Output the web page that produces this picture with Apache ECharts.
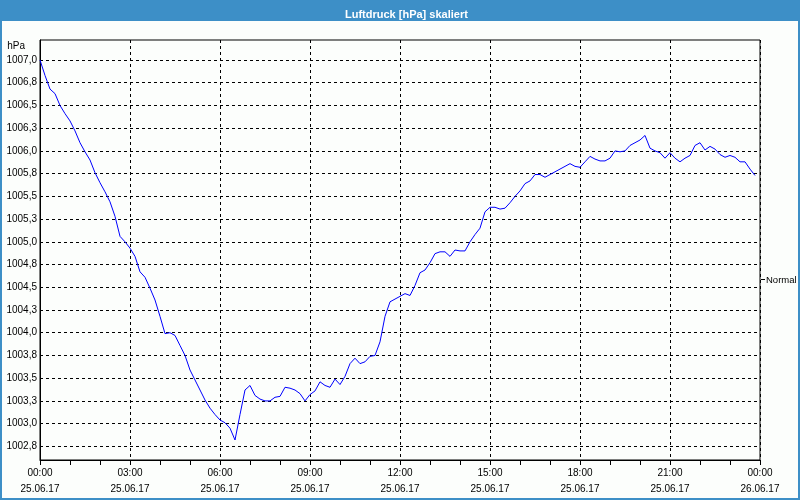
<!DOCTYPE html>
<html>
<head>
<meta charset="utf-8">
<script src="https://cdn.jsdelivr.net/npm/echarts@6/dist/echarts.min.js"></script>
<style>
html,body{margin:0;padding:0;background:#fcfefc;}
#chart{width:800px;height:500px;}
</style>
</head>
<body>
<div id="chart"></div>
<script>
// Time of each sample in hours after 25.06.17 00:00 (10-minute sampling)
const sampleStepHours = 1 / 6;
// Air pressure values [hPa]
const pressure = [
  1007.00, 1006.83, 1006.68, 1006.63, 1006.50, 1006.41, 1006.33, 1006.22, 1006.09, 1005.99,
  1005.90, 1005.76, 1005.65, 1005.55, 1005.44, 1005.28, 1005.06, 1005.00, 1004.93, 1004.84,
  1004.67, 1004.61, 1004.49, 1004.36, 1004.18, 1003.99, 1004.00, 1003.97, 1003.86, 1003.75,
  1003.59, 1003.48, 1003.37, 1003.26, 1003.17, 1003.10, 1003.04, 1003.01, 1002.95, 1002.82,
  1003.10, 1003.37, 1003.42, 1003.31, 1003.27, 1003.25, 1003.25, 1003.29, 1003.30, 1003.40,
  1003.39, 1003.37, 1003.33, 1003.25, 1003.32, 1003.36, 1003.46, 1003.42, 1003.40, 1003.49,
  1003.43, 1003.52, 1003.66, 1003.72, 1003.66, 1003.68, 1003.74, 1003.75, 1003.90, 1004.18,
  1004.34, 1004.37, 1004.40, 1004.43, 1004.41, 1004.52, 1004.66, 1004.69, 1004.77, 1004.87,
  1004.89, 1004.89, 1004.84, 1004.91, 1004.90, 1004.90, 1005.00, 1005.08, 1005.15, 1005.33,
  1005.38, 1005.38, 1005.36, 1005.37, 1005.43, 1005.50, 1005.56, 1005.64, 1005.67, 1005.74,
  1005.74, 1005.71, 1005.74, 1005.77, 1005.80, 1005.83, 1005.86, 1005.83, 1005.82, 1005.88,
  1005.94, 1005.91, 1005.89, 1005.89, 1005.92, 1006.00, 1005.99, 1006.00, 1006.06, 1006.09,
  1006.12, 1006.17, 1006.03, 1006.00, 1005.98, 1005.92, 1005.98, 1005.92, 1005.88, 1005.92,
  1005.95, 1006.06, 1006.09, 1006.01, 1006.05, 1006.02, 1005.96, 1005.93, 1005.95, 1005.93,
  1005.88, 1005.88, 1005.80, 1005.73
];
// x-axis tick labels (every 3 hours)
const xTickLabels = [
  '00:00\n25.06.17', '03:00\n25.06.17', '06:00\n25.06.17', '09:00\n25.06.17',
  '12:00\n25.06.17', '15:00\n25.06.17', '18:00\n25.06.17', '21:00\n25.06.17',
  '00:00\n26.06.17'
];
// y-axis tick values
const yTickValues = [
  1002.75, 1003.0, 1003.25, 1003.5, 1003.75, 1004.0, 1004.25, 1004.5, 1004.75,
  1005.0, 1005.25, 1005.5, 1005.75, 1006.0, 1006.25, 1006.5, 1006.75, 1007.0
];
const seriesName = 'Normal';
const titleText = 'Luftdruck [hPa] skaliert';
const unitText = 'hPa';

const seriesData = pressure.map((v, i) => [i * sampleStepHours, v]);

const FONT = 'Liberation Sans';
const chart = echarts.init(document.getElementById('chart'), null, {renderer: 'canvas'});
chart.setOption({
  backgroundColor: '#fcfefc',
  animation: false,
  title: {
    text: titleText,
    left: 340,
    top: 4,
    textStyle: {color: '#ffffff', fontSize: 11, fontWeight: 'bold', fontFamily: FONT}
  },
  graphic: [
    {type: 'rect', z: -10, silent: true, shape: {x: 0, y: 0, width: 800, height: 21}, style: {fill: '#3d8fc7'}},
    {type: 'rect', z: 100, silent: true, shape: {x: 1, y: 1, width: 798, height: 498}, style: {fill: 'none', stroke: '#3d8fc7', lineWidth: 2}},
    {type: 'text', silent: true, style: {text: unitText, x: 25, y: 46, align: 'right', verticalAlign: 'middle', fill: '#000', font: '10px "Liberation Sans"'}},
    {type: 'line', silent: true, shape: {x1: 761, y1: 279.5, x2: 765, y2: 279.5}, style: {stroke: '#000', lineWidth: 1}}
  ],
  legend: {
    data: [seriesName],
    left: 761,
    top: 275,
    orient: 'vertical',
    icon: 'none',
    itemWidth: 0,
    itemHeight: 1,
    padding: 0,
    textStyle: {fontSize: 9.5, color: '#000', fontFamily: FONT},
    selectedMode: false
  },
  grid: {
    left: 40, right: 40, top: 40, bottom: 40,
    show: true, borderColor: '#000', borderWidth: 1, backgroundColor: 'transparent'
  },
  xAxis: {
    type: 'value',
    min: 0, max: 24, interval: 3,
    axisLine: {show: true, lineStyle: {color: '#000', width: 1}},
    axisTick: {show: true, length: 5, lineStyle: {color: '#000'}},
    minorTick: {show: true, splitNumber: 3, length: 5, lineStyle: {color: '#000'}},
    splitLine: {show: true, lineStyle: {color: '#000', type: [3, 3], width: 1}},
    axisLabel: {
      margin: 5, lineHeight: 16, color: '#000', fontSize: 10, fontFamily: FONT,
      formatter: v => xTickLabels[Math.round(v / 3)] || ''
    }
  },
  yAxis: {
    type: 'value',
    min: 1002.6, max: 1007.22,
    axisLine: {show: true, lineStyle: {color: '#000', width: 1}},
    axisTick: {show: false, customValues: yTickValues},
    splitLine: {show: true, lineStyle: {color: '#000', type: [3, 3], width: 1}},
    axisLabel: {
      customValues: yTickValues,
      margin: 3, color: '#000', fontSize: 10, fontFamily: FONT,
      formatter: v => v.toFixed(1).replace('.', ',')
    }
  },
  series: [{
    name: seriesName,
    type: 'line',
    data: seriesData,
    showSymbol: false,
    symbol: 'none',
    lineStyle: {color: '#0000ff', width: 1},
    itemStyle: {color: '#0000ff'}
  }]
});
</script>
</body>
</html>
